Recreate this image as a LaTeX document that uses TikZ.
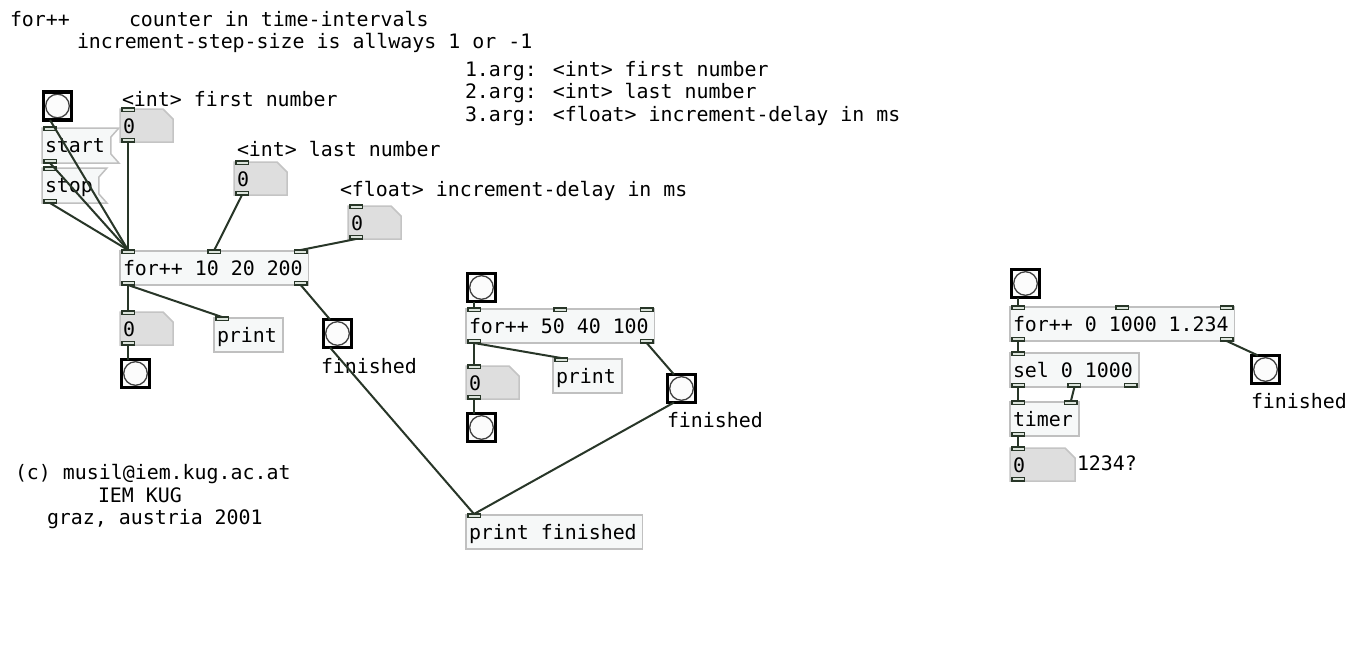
\documentclass[tikz,border=0pt]{standalone}
\usepackage{fontspec}
\setmainfont{DejaVu Sans Mono}
\usetikzlibrary{positioning}
\pgfdeclarelayer{background}
\pgfsetlayers{background,main}
\definecolor{boxline}{RGB}{192,192,192}
\definecolor{boxfill}{RGB}{246,248,248}
\definecolor{nbfill}{RGB}{222,222,222}
\definecolor{nbline}{RGB}{196,196,196}
\definecolor{wirecol}{RGB}{40,54,40}
\definecolor{portfill}{RGB}{220,228,220}
\newcommand{\pdfont}{\fontsize{19.9pt}{22.5pt}\selectfont}
\newcommand{\numshape}[1]{\filldraw[fill=nbfill, draw=nbline, line width=1.5] (#1.north west) -- ([xshift=-10pt]#1.north east) -- ([yshift=-10pt]#1.north east) -- (#1.south east) -- (#1.south west) -- cycle;}
\newcommand{\msgshape}[1]{\filldraw[fill=boxfill, draw=boxline, line width=1.5] (#1.north west) -- ([xshift=8pt]#1.north east) -- ([yshift=-9pt]#1.north east) -- ([yshift=9pt]#1.south east) -- ([xshift=8pt]#1.south east) -- (#1.south west) -- cycle;}

\begin{document}
\begin{tikzpicture}[x=1pt, y=-1pt,
  every node/.style={font=\pdfont, outer sep=0},
  txt/.style={anchor=base west, inner sep=0},
  obj/.style={draw=boxline, fill=boxfill, line width=1.5, anchor=north west, inner xsep=3, inner ysep=0, text height=24, text depth=10, execute at end node=\hspace{3pt}},
  msg/.style={anchor=north west, inner xsep=3, inner ysep=0, text height=24, text depth=11, execute at end node=\hspace{3pt}},
  numbox/.style={anchor=north west, inner xsep=3, inner ysep=0, text height=24, text depth=9, align=left, text width=#1},
  bng/.style={draw=black, line width=3.2, fill={rgb,255:red,252;green,252;blue,252}, minimum size=28, inner sep=0,
    path picture={\draw[line width=1.3, black!75] (path picture bounding box.center) circle (11.8);}},
  port/.style={draw=wirecol, fill=portfill, line width=1.5, minimum width=12.5, minimum height=3.5, inner sep=0},
  pin/.style={port, anchor=north, yshift=1pt},
  pout/.style={port, anchor=south},
  conn/.style={draw=wirecol, line width=2}]
\useasboundingbox (0,0) rectangle (1365,670);

% Comments
\node[txt] (title) at (10,26) {for++};
\node[txt] (head1) at (129,26) {counter in time-intervals};
\node[txt] (head2) at (77,48) {increment-step-size is allways 1 or -1};
\node[txt] (arg1) at (465,76) {1.arg: <int> first number};
\node[txt] (arg2) at (465,98.5) {2.arg: <int> last number};
\node[txt] (arg3) at (465,121) {3.arg: <float> increment-delay in ms};
\node[txt] (copy1) at (15,479) {(c) musil@iem.kug.ac.at};
\node[txt] (copy2) at (98,502) {IEM KUG};
\node[txt] (copy3) at (47,524.5) {graz, austria 2001};

% Left patch
\node[bng] (bang1) at (57.5,106) {};
\node[numbox=47] (nb1) at (120,109) {0};
\node[txt] (nb1lbl) at (122,106) {<int> first number};
\node[msg] (start) at (42,128) {start};
\node[msg] (stop) at (42,168) {stop};
\node[numbox=47] (nb2) at (234,162) {0};
\node[txt] (nb2lbl) at (237,156) {<int> last number};
\node[numbox=47] (nb3) at (348,206) {0};
\node[txt] (nb3lbl) at (340,196) {<float> increment-delay in ms};
\node[obj] (for1) at (120,251) {for++ 10 20 200};
\node[numbox=47] (nb4) at (120,312) {0};
\node[obj] (print1) at (214,318) {print};
\node[bng] (bang2) at (135.5,373.5) {};
\node[bng] (fin1) at (337.5,333.5) {};
\node[txt] (fin1lbl) at (321,373) {finished};

% Middle patch
\node[bng] (bang3) at (481.5,287.5) {};
\node[obj] (for2) at (466,309) {for++ 50 40 100};
\node[numbox=47] (nb5) at (466,366) {0};
\node[obj] (print2) at (553,359) {print};
\node[bng] (bang4) at (481.5,427.5) {};
\node[bng] (fin2) at (681.5,388.5) {};
\node[txt] (fin2lbl) at (667,427) {finished};
\node[obj] (pfin) at (466,515) {print finished};

% Right patch
\node[bng] (bang5) at (1025.5,283.5) {};
\node[obj] (for3) at (1010,307) {for++ 0 1000 1.234};
\node[obj] (sel) at (1010,353) {sel 0 1000};
\node[obj] (timer) at (1010,402) {timer};
\node[numbox=59] (nb6) at (1010,448) {0};
\node[txt] (nb6lbl) at (1077,470) {1234?};
\node[bng] (fin3) at (1265.5,369.5) {};
\node[txt] (fin3lbl) at (1251,408) {finished};

% Box outlines
\begin{pgfonlayer}{background}
\fill[white] (0,0) rectangle (1365,670);
\msgshape{start}
\msgshape{stop}
\numshape{nb1}
\numshape{nb2}
\numshape{nb3}
\numshape{nb4}
\numshape{nb5}
\numshape{nb6}
\end{pgfonlayer}

% Inlets and outlets
\node[pin] (starti) at ([xshift=8pt]start.north west) {};
\node[pout] (starto) at ([xshift=8pt]start.south west) {};
\node[pin] (stopi) at ([xshift=8pt]stop.north west) {};
\node[pout] (stopo) at ([xshift=8pt]stop.south west) {};
\node[pin] (nb1i) at ([xshift=8pt]nb1.north west) {};
\node[pout] (nb1o) at ([xshift=8pt]nb1.south west) {};
\node[pin] (nb2i) at ([xshift=8pt]nb2.north west) {};
\node[pout] (nb2o) at ([xshift=8pt]nb2.south west) {};
\node[pin] (nb3i) at ([xshift=8pt]nb3.north west) {};
\node[pout] (nb3o) at ([xshift=8pt]nb3.south west) {};
\node[pin] (for1a) at ([xshift=8pt]for1.north west) {};
\node[pin] (for1b) at (for1.north) {};
\node[pin] (for1c) at ([xshift=-8pt]for1.north east) {};
\node[pout] (for1l) at ([xshift=8pt]for1.south west) {};
\node[pout] (for1r) at ([xshift=-8pt]for1.south east) {};
\node[pin] (nb4i) at ([xshift=8pt]nb4.north west) {};
\node[pout] (nb4o) at ([xshift=8pt]nb4.south west) {};
\node[pin] (print1i) at ([xshift=8pt]print1.north west) {};
\node[pin] (for2a) at ([xshift=8pt]for2.north west) {};
\node[pin] (for2b) at (for2.north) {};
\node[pin] (for2c) at ([xshift=-8pt]for2.north east) {};
\node[pout] (for2l) at ([xshift=8pt]for2.south west) {};
\node[pout] (for2r) at ([xshift=-8pt]for2.south east) {};
\node[pin] (nb5i) at ([xshift=8pt]nb5.north west) {};
\node[pout] (nb5o) at ([xshift=8pt]nb5.south west) {};
\node[pin] (print2i) at ([xshift=8pt]print2.north west) {};
\node[pin] (pfini) at ([xshift=8pt]pfin.north west) {};
\node[pin] (for3a) at ([xshift=8pt]for3.north west) {};
\node[pin] (for3b) at (for3.north) {};
\node[pin] (for3c) at ([xshift=-8pt]for3.north east) {};
\node[pout] (for3l) at ([xshift=8pt]for3.south west) {};
\node[pout] (for3r) at ([xshift=-8pt]for3.south east) {};
\node[pin] (seli) at ([xshift=8pt]sel.north west) {};
\node[pout] (sela) at ([xshift=8pt]sel.south west) {};
\node[pout] (selb) at (sel.south) {};
\node[pout] (selc) at ([xshift=-8pt]sel.south east) {};
\node[pin] (timera) at ([xshift=8pt]timer.north west) {};
\node[pin] (timerb) at ([xshift=-8pt]timer.north east) {};
\node[pout] (timero) at ([xshift=8pt]timer.south west) {};
\node[pin] (nb6i) at ([xshift=8pt]nb6.north west) {};
\node[pout] (nb6o) at ([xshift=8pt]nb6.south west) {};

% Connections
\draw[conn] ([xshift=6.5pt]bang1.south west) -- (for1a.north);
\draw[conn] (starto.south) -- (for1a.north);
\draw[conn] (stopo.south) -- (for1a.north);
\draw[conn] (nb1o.south) -- (for1a.north);
\draw[conn] (nb2o.south) -- (for1b.north);
\draw[conn] (nb3o.south) -- (for1c.north);
\draw[conn] (for1l.south) -- (nb4i.north);
\draw[conn] (for1l.south) -- (print1i.north);
\draw[conn] (for1r.south) -- ([xshift=6.5pt]fin1.north west);
\draw[conn] (nb4o.south) -- ([xshift=6.5pt]bang2.north west);
\draw[conn] ([xshift=6.5pt]fin1.south west) -- (pfini.north);
\draw[conn] ([xshift=6.5pt]bang3.south west) -- (for2a.north);
\draw[conn] (for2l.south) -- (nb5i.north);
\draw[conn] (for2l.south) -- (print2i.north);
\draw[conn] (for2r.south) -- ([xshift=6.5pt]fin2.north west);
\draw[conn] (nb5o.south) -- ([xshift=6.5pt]bang4.north west);
\draw[conn] ([xshift=6.5pt]fin2.south west) -- (pfini.north);
\draw[conn] ([xshift=6.5pt]bang5.south west) -- (for3a.north);
\draw[conn] (for3l.south) -- (seli.north);
\draw[conn] (for3r.south) -- ([xshift=6.5pt]fin3.north west);
\draw[conn] (sela.south) -- (timera.north);
\draw[conn] (selb.south) -- (timerb.north);
\draw[conn] (timero.south) -- (nb6i.north);
\end{tikzpicture}
\end{document}
